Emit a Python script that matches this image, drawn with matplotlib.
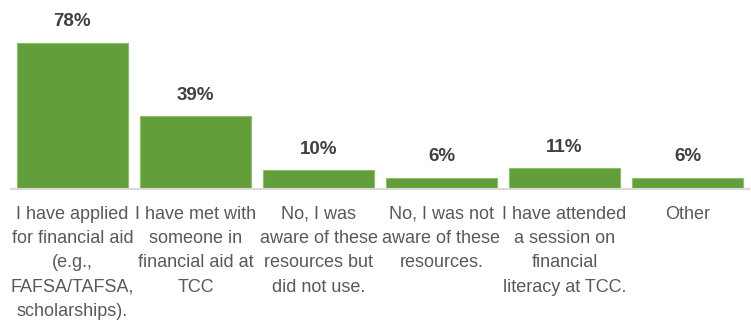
import matplotlib.pyplot as plt

# Survey answers and shares (%)
categories = [
    "I have applied\nfor financial aid\n(e.g.,\nFAFSA/TAFSA,\nscholarships).",
    "I have met with\nsomeone in\nfinancial aid at\nTCC",
    "No, I was\naware of these\nresources but\ndid not use.",
    "No, I was not\naware of these\nresources.",
    "I have attended\na session on\nfinancial\nliteracy at TCC.",
    "Other",
]
values = [78, 39, 10, 6, 11, 6]
value_labels = ["78%", "39%", "10%", "6%", "11%", "6%"]


def main():
    plt.rcParams['font.family'] = ['Liberation Sans', 'DejaVu Sans']
    fig = plt.figure(figsize=(7.51, 3.24), dpi=100)
    ax = fig.add_axes([11 / 751, 135 / 324, 738 / 751, 189 / 324])

    x = range(len(values))
    ax.bar(x, values, width=0.9, color='#629F3A', edgecolor='#8CC068',
           linewidth=0.8, zorder=2)

    # Percent labels above the bars
    for xi, v, lab in zip(x, values, value_labels):
        ax.annotate(lab, (xi, v), xytext=(0, 9), textcoords='offset points',
                    ha='center', va='bottom', fontsize=13.5,
                    fontweight='bold', color='#404040')

    ax.set_xlim(-0.5, len(values) - 0.5)
    ax.set_ylim(0, 189 / (146 / 78))
    ax.set_xticks(list(x))
    ax.set_xticklabels(categories, fontsize=13, color='#595959',
                       linespacing=1.57)
    ax.tick_params(axis='x', length=0, pad=12)
    ax.set_yticks([])

    for side in ['left', 'right', 'top']:
        ax.spines[side].set_visible(False)
    ax.spines['bottom'].set_color('#D9D9D9')
    ax.spines['bottom'].set_linewidth(1.5)

    fig.savefig("out.png", dpi=100)
    return 0


if __name__ == "__main__":
    main()
